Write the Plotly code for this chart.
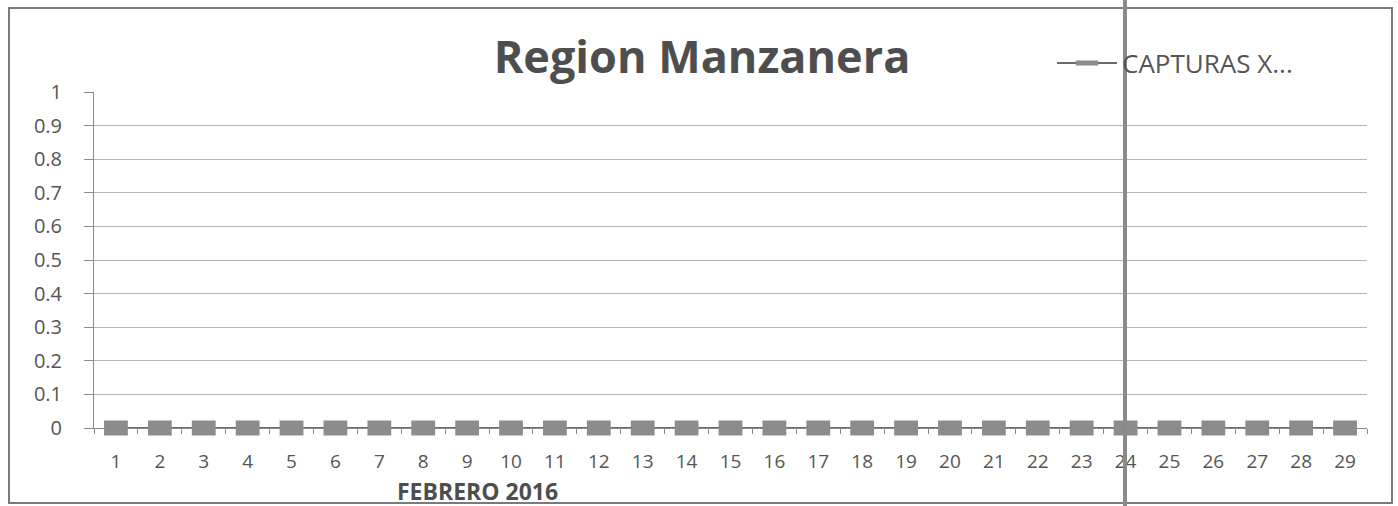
import plotly.graph_objects as go

days = [str(d) for d in range(1, 30)]
capturas = [0] * 29
y_ticks = [0, 0.1, 0.2, 0.3, 0.4, 0.5, 0.6, 0.7, 0.8, 0.9, 1]
y_labels = ["0", "0.1", "0.2", "0.3", "0.4", "0.5", "0.6", "0.7", "0.8", "0.9", "1"]

W, H = 1398, 506
L, R, T, B = 94, 31, 92, 78
pw, ph = W - L - R, H - T - B


def px(x):
    return (x - L) / pw


def py(y):
    return (H - B - y) / ph


FONT = "Open Sans, Liberation Sans, sans-serif"

fig = go.Figure()
fig.add_trace(go.Scatter(
    x=days, y=capturas, mode="lines+markers",
    name="CAPTURAS X...",
    cliponaxis=False,
    line=dict(color="#6a6a6a", width=2),
    marker=dict(symbol="line-ew", size=17, color="#8e8e8e",
                line=dict(color="#8c8c8c", width=15)),
))

fig.update_layout(
    width=W, height=H,
    margin=dict(l=L, r=R, t=T, b=B, autoexpand=False),
    paper_bgcolor="white", plot_bgcolor="white",
    font=dict(family=FONT, color="#555555", size=18),
    title=dict(text="<b>Region Manzanera</b>", x=px(702), xref="paper", xanchor="center",
               y=1 - 57 / H, yref="container", yanchor="middle",
               font=dict(size=45, color="#4e4e4e", family=FONT)),
    showlegend=True,
    legend=dict(x=px(1052), y=py(63), xref="paper", yref="paper", xanchor="left", yanchor="middle",
                bgcolor="rgba(0,0,0,0)", font=dict(size=26, color="#555555", family=FONT),
                itemwidth=60),
    xaxis=dict(type="category", range=[-0.5, 28.5], showgrid=False, showline=True,
               linecolor="#8a8a8a", linewidth=1, ticks="outside", ticklen=5, tickcolor="#8a8a8a",
               tickson="boundaries", ticklabelstandoff=16, automargin=False,
               tickfont=dict(size=19, color="#555555", family=FONT), zeroline=False),
    yaxis=dict(range=[0, 1], tickvals=y_ticks, ticktext=y_labels, showgrid=True,
               gridcolor="#b4b4b4", gridwidth=1, showline=True, linecolor="#8a8a8a",
               ticks="outside", ticklen=9, tickcolor="#8a8a8a", ticklabelstandoff=18,
               automargin=False,
               tickfont=dict(size=20, color="#555555", family=FONT), zeroline=False),
    annotations=[dict(text="<b>FEBRERO 2016</b>", x=px(477), y=py(491), xref="paper", yref="paper",
                      xanchor="center", yanchor="middle", showarrow=False,
                      font=dict(size=23, color="#4e4e4e", family=FONT))],
)

# chart border and scan line
fig.add_shape(type="rect", xref="paper", yref="paper",
              x0=px(9), x1=px(1392), y0=py(503), y1=py(8),
              line=dict(color="#7a7a7a", width=2), layer="below")
fig.add_shape(type="line", xref="paper", yref="paper",
              x0=px(1125), x1=px(1125), y0=py(506), y1=py(0),
              line=dict(color="#8a8a8a", width=4))

fig.write_html("out.html", config={"displayModeBar": False},
               post_script="document.body.style.margin='0';document.body.style.overflow='hidden';")
